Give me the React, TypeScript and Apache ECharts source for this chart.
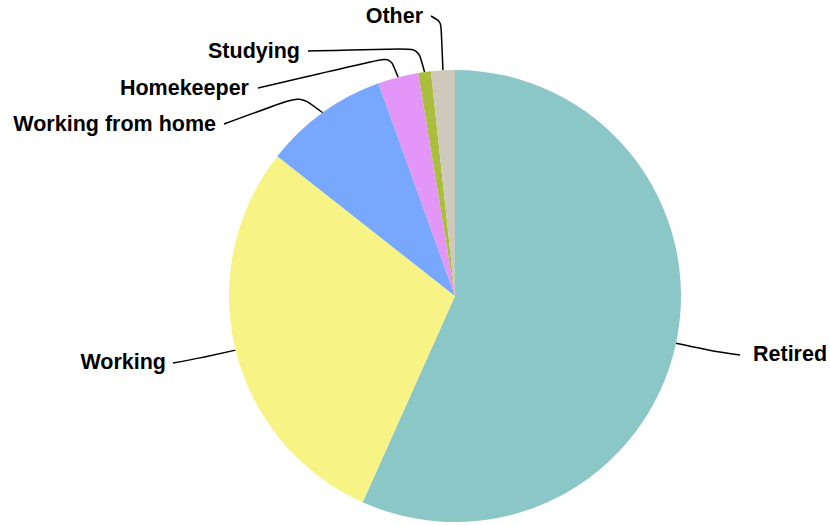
import React, { useEffect, useRef } from "react";
import * as echarts from "echarts";

const categories = ["Retired", "Working", "Working from home", "Homekeeper", "Studying", "Other"];
const values = [56.7, 28.9, 8.9, 2.9, 0.9, 1.7];
const colors = ["#8cc7c8", "#f7f485", "#77a8fd", "#e396f8", "#abbd3c", "#cdcabb"];

// label placement (layout only)
const labelPlace = [
  { x: 753, y: 354, align: "left", bend: [718, 352], end: [740, 355] },
  { x: 166, y: 362, align: "right", bend: [200, 358], end: [173, 363] },
  { x: 216, y: 124, align: "right", bend: [300, 96], end: [224, 124] },
  { x: 249, y: 88, align: "right", bend: [390, 57], end: [258, 88] },
  { x: 300, y: 51, align: "right", bend: [418, 48], end: [308, 51] },
  { x: 423, y: 16, align: "right", bend: [441, 22], end: [431, 16] },
];

export default function App() {
  const ref = useRef<HTMLDivElement>(null);
  useEffect(() => {
    document.body.style.margin = "0";
    const chart = echarts.init(ref.current!, null, { renderer: "svg" });
    chart.setOption({
      animation: false,
      series: [
        {
          type: "pie",
          center: [455, 296],
          radius: 226,
          startAngle: 90,
          clockwise: true,
          data: categories.map((c, i) => ({ name: c, value: values[i], itemStyle: { color: colors[i] } })),
          label: {
            show: true,
            formatter: "{b}",
            color: "#000",
            fontWeight: "bold",
            fontSize: 21.5,
            fontFamily: "Liberation Sans, Arial, sans-serif",
          },
          labelLine: {
            show: true,
            length: 20,
            length2: 20,
            smooth: 0.25,
            lineStyle: { color: "#000", width: 1.5 },
          },
          labelLayout: (params: any) => {
            const p = labelPlace[params.dataIndex];
            const anchor = params.labelLinePoints ? params.labelLinePoints[0] : [0, 0];
            return {
              x: p.x,
              y: p.y,
              align: p.align,
              verticalAlign: "middle",
              labelLinePoints: [anchor, p.bend, p.end],
            };
          },
          itemStyle: { borderWidth: 0 },
        },
      ],
    });
    return () => chart.dispose();
  }, []);
  return <div ref={ref} style={{ width: 830, height: 525 }} />;
}
